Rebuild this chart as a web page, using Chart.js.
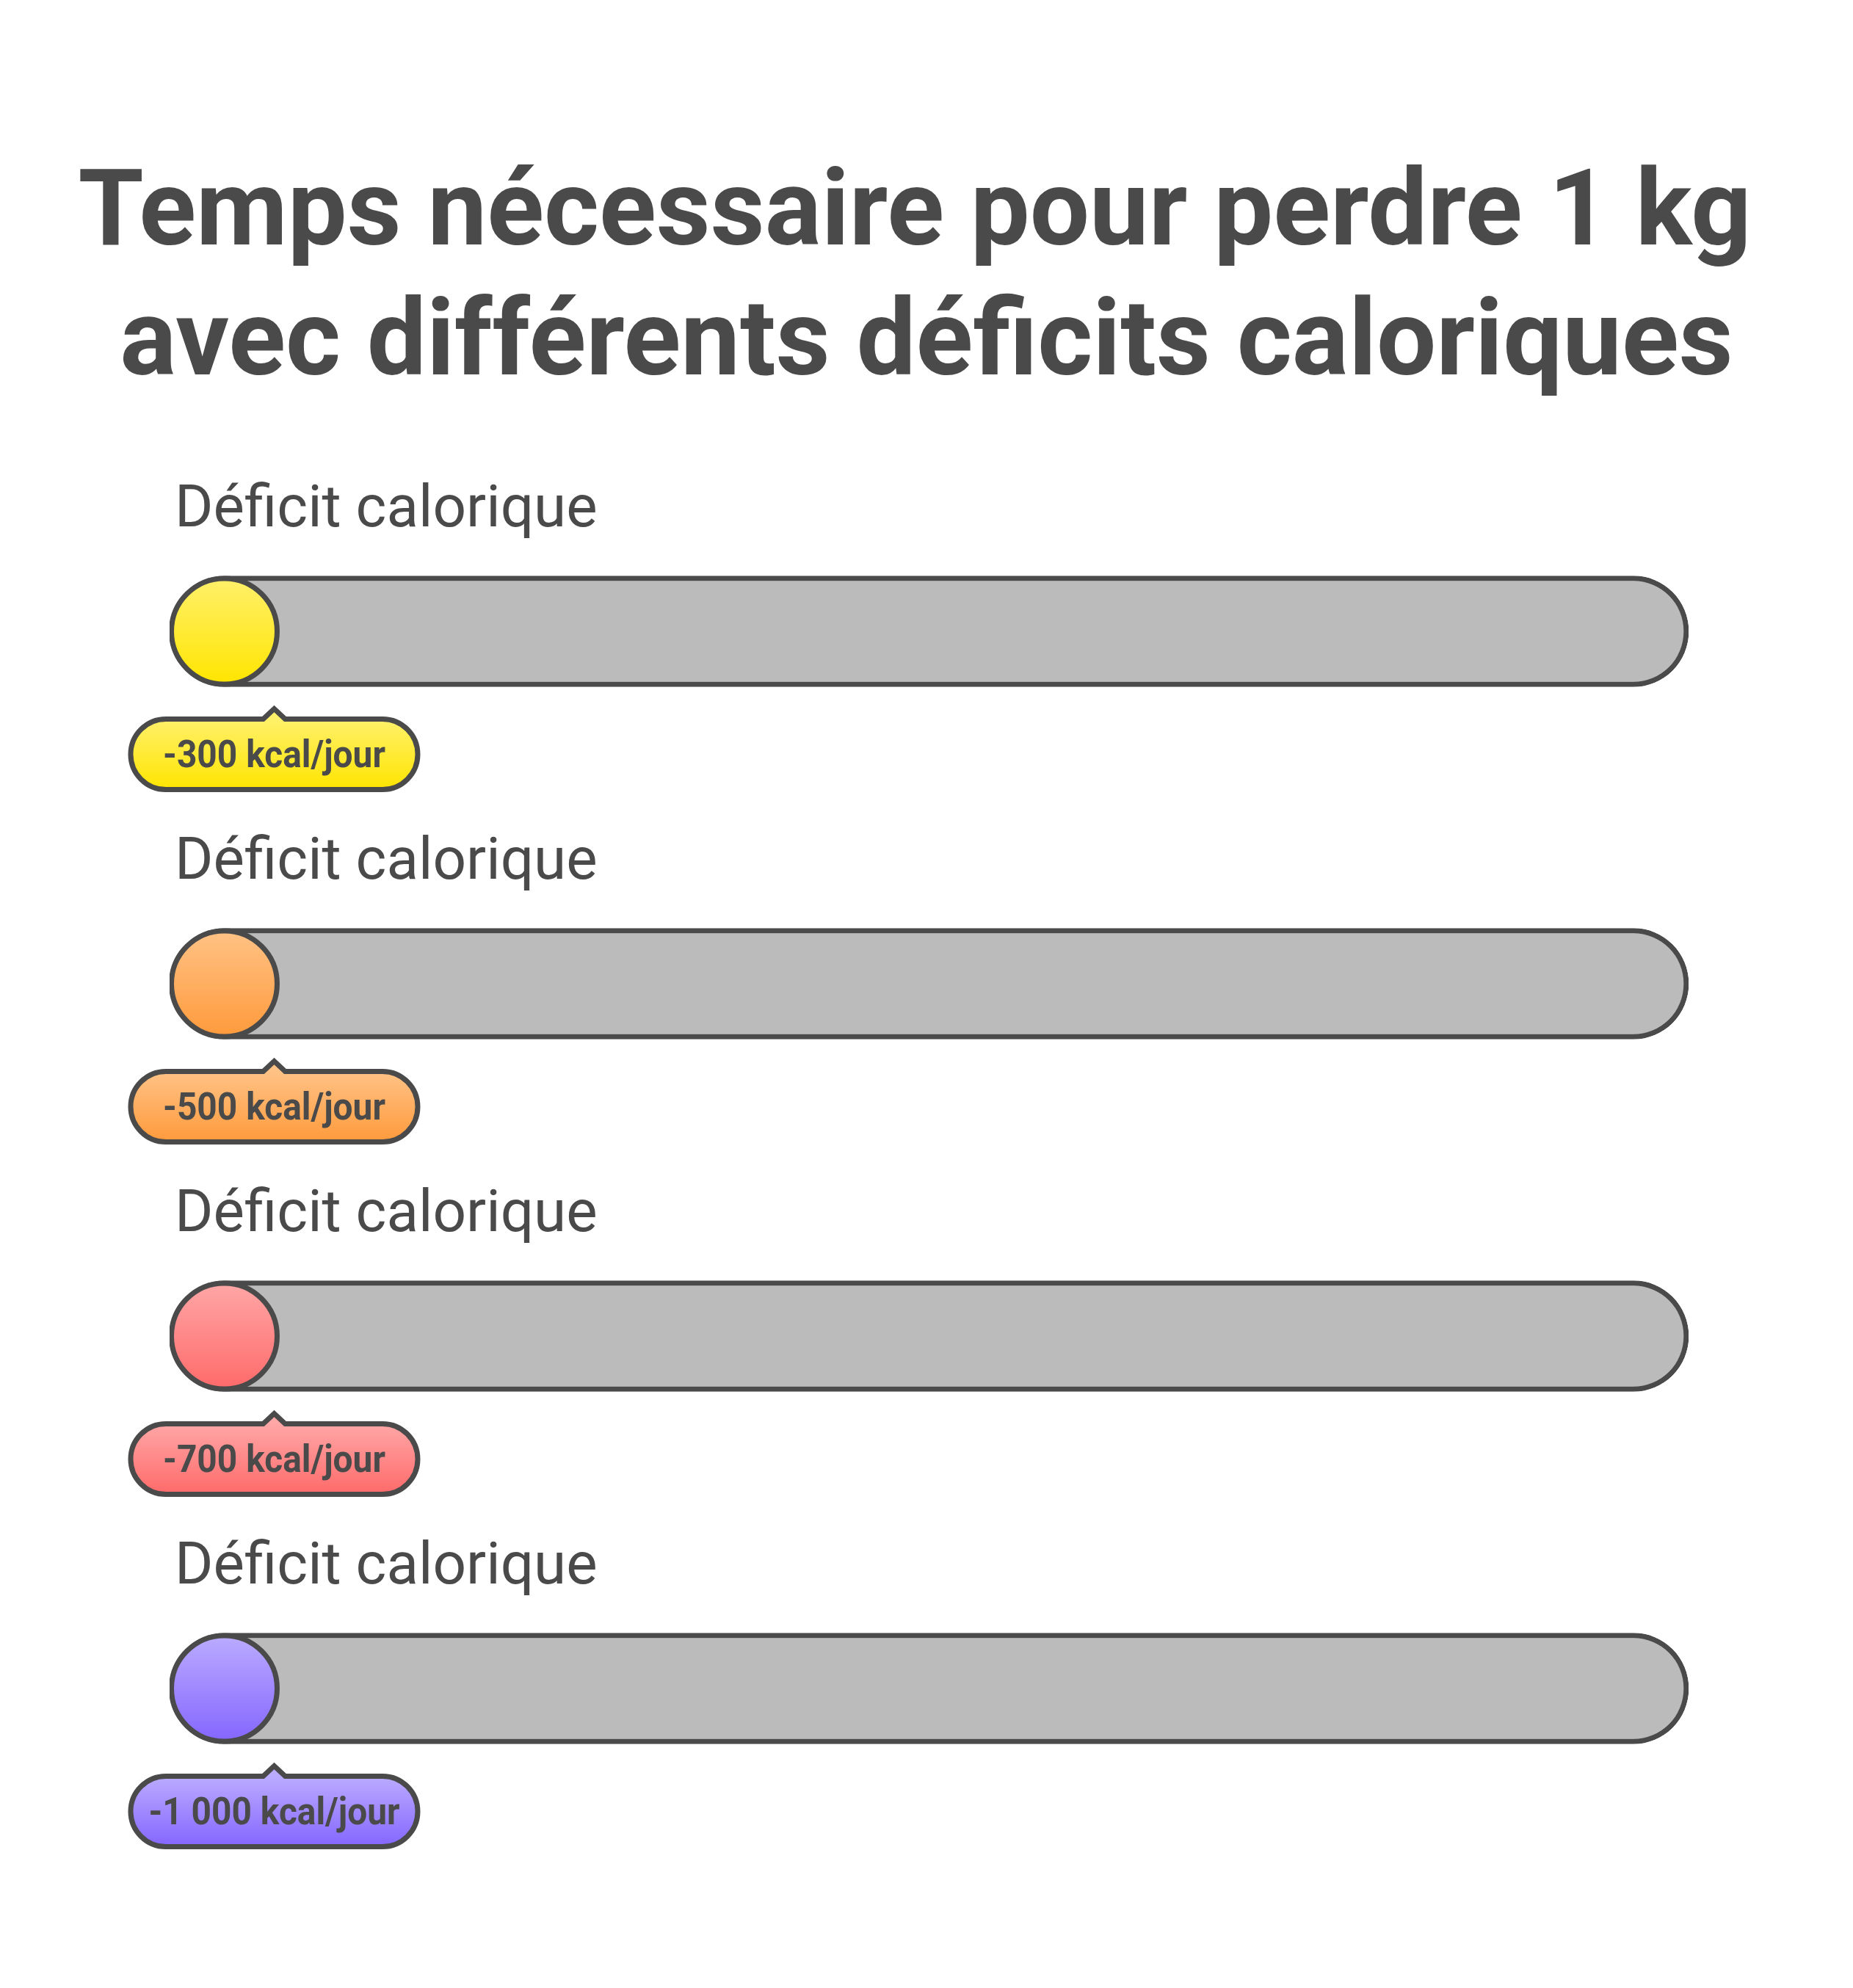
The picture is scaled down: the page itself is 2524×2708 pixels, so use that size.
<!DOCTYPE html>
<html>
<head>
<meta charset="utf-8">
<script src="https://cdn.jsdelivr.net/npm/chart.js@4.4.1/dist/chart.umd.min.js"></script>
<style>
  html, body { margin: 0; padding: 0; background: #ffffff; }
  #wrap { width: 2524px; height: 2708px; }
</style>
</head>
<body>
<div id="wrap"><canvas id="chart" width="2524" height="2708"></canvas></div>
<script>
// Données
const categories = ['-300 kcal/jour', '-500 kcal/jour', '-700 kcal/jour', '-1 000 kcal/jour'];
const rowTitles = ['Déficit calorique', 'Déficit calorique', 'Déficit calorique', 'Déficit calorique'];
const trackRange = [0, 100];
const knobValues = [3.6, 3.6, 3.6, 3.6];
const titleLines = ['Temps nécessaire pour perdre 1 kg', 'avec différents déficits caloriques'];

// Couleurs (haut / bas du dégradé)
const topColors = ['#fff06a', '#ffc285', '#ffa6a6', '#bbabff'];
const bottomColors = ['#ffe500', '#ff9a3c', '#ff6a6a', '#8466ff'];
const ink = '#4a4a4a';

function gradientAt(ctx, i, y0, y1) {
  const g = ctx.createLinearGradient(0, y0, 0, y1);
  g.addColorStop(0, topColors[i]);
  g.addColorStop(1, bottomColors[i]);
  return g;
}

const knobFill = function (c) {
  const chart = c.chart;
  if (!chart.chartArea || c.type !== 'data') return bottomColors[c.dataIndex];
  const y = chart.scales.y.getPixelForValue(c.dataIndex);
  return gradientAt(chart.ctx, c.dataIndex, y - 72, y + 72);
};

// Titre, libellés et bulles
const decorations = {
  id: 'decorations',
  afterDatasetsDraw(chart) {
    const ctx = chart.ctx;
    const xs = chart.scales.x;
    const ys = chart.scales.y;
    ctx.save();
    ctx.fillStyle = ink;
    ctx.textAlign = 'center';
    ctx.textBaseline = 'alphabetic';
    ctx.font = 'bold 144px Roboto';
    ctx.fillText(titleLines[0], 1246, 333);
    ctx.fillText(titleLines[1], 1262, 510);

    categories.forEach((cat, i) => {
      const y = ys.getPixelForValue(i);
      const kx = xs.getPixelForValue(knobValues[i]);

      ctx.fillStyle = ink;
      ctx.textAlign = 'left';
      ctx.font = '400 80px Roboto';
      ctx.fillText(rowTitles[i], xs.left + 7, y - 143);

      // bulle avec pointe
      const cx = kx + 68;
      const left = cx - 195.5, right = cx + 195.5;
      const top = y + 119.5, bottom = y + 215.5;
      const r = 48;
      ctx.beginPath();
      ctx.moveTo(left + r, top);
      ctx.lineTo(cx - 15, top);
      ctx.lineTo(cx, top - 14);
      ctx.lineTo(cx + 15, top);
      ctx.lineTo(right - r, top);
      ctx.arc(right - r, top + r, r, -Math.PI / 2, Math.PI / 2);
      ctx.lineTo(left + r, bottom);
      ctx.arc(left + r, top + r, r, Math.PI / 2, Math.PI * 1.5);
      ctx.closePath();
      ctx.fillStyle = gradientAt(ctx, i, top, bottom);
      ctx.fill();
      ctx.lineWidth = 7;
      ctx.strokeStyle = ink;
      ctx.lineJoin = 'miter';
      ctx.stroke();

      ctx.save();
      ctx.translate(cx, y + 185);
      ctx.scale(0.92, 1);
      ctx.fillStyle = ink;
      ctx.textAlign = 'center';
      ctx.font = 'bold 52px Roboto';
      ctx.fillText(cat, 0, 0);
      ctx.restore();
    });
    ctx.restore();
  }
};

new Chart(document.getElementById('chart'), {
  type: 'bar',
  data: {
    labels: categories,
    datasets: [{
      type: 'line',
      label: 'Curseur',
      data: knobValues,
      indexAxis: 'y',
      showLine: false,
      pointRadius: 72,
      pointHoverRadius: 72,
      pointBorderWidth: 7,
      pointBorderColor: ink,
      pointBackgroundColor: knobFill,
      order: 0
    }, {
      label: 'Piste',
      data: categories.map(() => trackRange),
      backgroundColor: '#bbbbbb',
      borderColor: ink,
      borderWidth: 7,
      borderSkipped: false,
      borderRadius: 80,
      barThickness: 151,
      order: 1
    }]
  },
  options: {
    indexAxis: 'y',
    responsive: false,
    animation: false,
    events: [],
    layout: { padding: { left: 231, right: 224, top: 620, bottom: 168 } },
    scales: {
      x: { display: false, min: 0, max: 100 },
      y: { display: false }
    },
    plugins: {
      legend: { display: false },
      tooltip: { enabled: false },
      title: { display: false }
    }
  },
  plugins: [decorations]
});
</script>
</body>
</html>
